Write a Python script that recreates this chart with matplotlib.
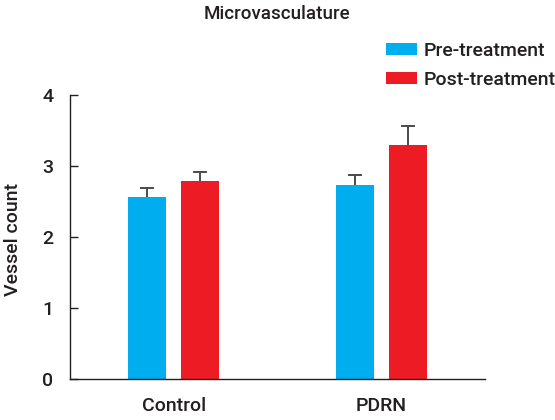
import matplotlib
matplotlib.use("Agg")
import matplotlib.pyplot as plt
import numpy as np

categories = ["Control", "PDRN"]
series_names = ["Pre-treatment", "Post-treatment"]
pre_values = [2.57, 2.73]
post_values = [2.79, 3.30]
pre_err = [0.12, 0.14]
post_err = [0.13, 0.26]
yticks = [0, 1, 2, 3, 4]

plt.rcParams["font.family"] = ["Roboto", "DejaVu Sans"]
plt.rcParams["font.weight"] = "medium"
txt = "#231f20"

fig = plt.figure(figsize=(5.55, 4.2), dpi=100)
ax = fig.add_axes([70/555, 1-379/420, 415/555, 284/420])

x = np.arange(len(categories))
w = 0.183
off = 0.127
blue = "#00aeef"
red = "#ed1c24"
ecol = "#4a4a4a"
for vals, errs, col, name, sgn in [(pre_values, pre_err, blue, series_names[0], -1),
                                   (post_values, post_err, red, series_names[1], 1)]:
    xp = x + sgn * off
    vals = np.array(vals)
    errs = np.array(errs)
    ax.bar(xp, vals, w, color=col, label=name, zorder=2)
    ax.errorbar(xp, vals, yerr=[np.zeros_like(errs), errs], fmt="none",
                ecolor=ecol, elinewidth=1.4, capsize=0, zorder=1)
    ax.plot(xp, vals + errs, linestyle="none", marker="_", markersize=10,
            markeredgewidth=1.4, color=ecol, zorder=1)

ax.set_xlim(-0.5, 1.5)
ax.set_ylim(0, 4)
ax.set_yticks(yticks)
ax.set_yticklabels([str(t) for t in yticks], fontsize=14, color=txt)
ax.set_xticks(x)
ax.set_xticklabels(categories, fontsize=14, color=txt)
ax.tick_params(axis="y", direction="in", length=6, width=1, pad=12, colors=txt)
ax.tick_params(axis="x", length=0, pad=13)
for s in ["top", "right"]:
    ax.spines[s].set_visible(False)
for s in ["left", "bottom"]:
    ax.spines[s].set_linewidth(1.0)
    ax.spines[s].set_color(txt)
fig.text(13/555, 1-240/420, "Vessel count", rotation=90, ha="center", va="center",
         fontsize=14, color=txt)

fig.text(277/555, 1-14/420, "Microvasculature", ha="center", va="center", fontsize=13.5, color=txt)

leg = fig.legend(loc="upper left", bbox_to_anchor=(386/555, 1-42/420), frameon=False,
                 fontsize=14, handlelength=1.6, handleheight=0.6, handletextpad=0.35,
                 labelspacing=0.55, borderaxespad=0, borderpad=0)
for t in leg.get_texts():
    t.set_color(txt)

fig.savefig("out.png", dpi=100)
